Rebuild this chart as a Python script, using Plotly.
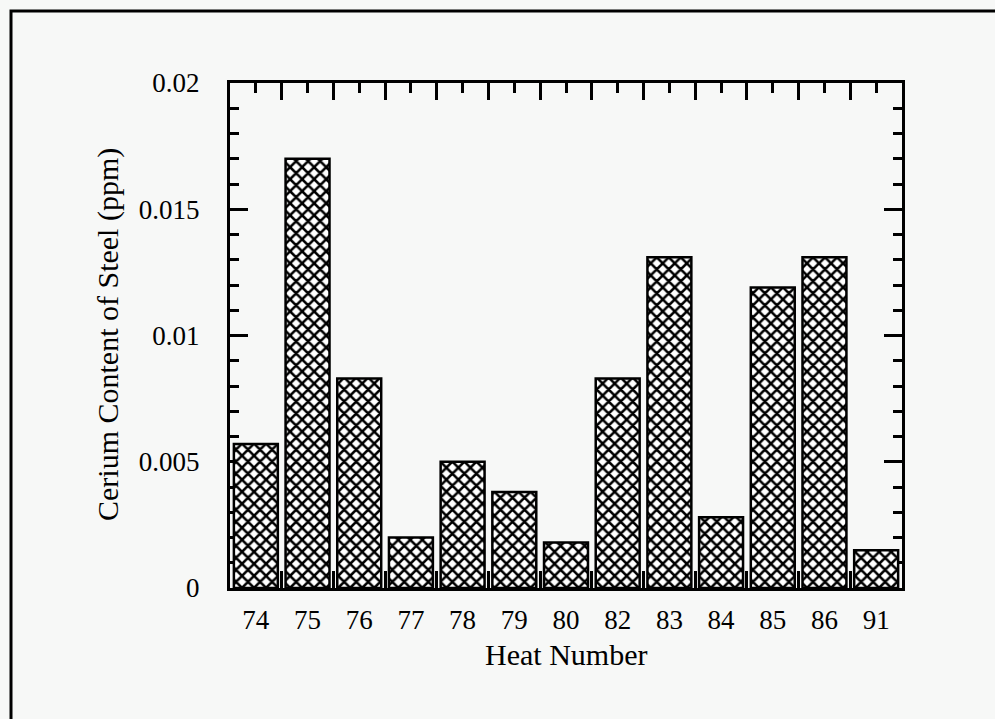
import plotly.graph_objects as go

heats = ["74", "75", "76", "77", "78", "79", "80", "82", "83", "84", "85", "86", "91"]
cerium = [0.0057, 0.0170, 0.0083, 0.0020, 0.0050, 0.0038, 0.0018, 0.0083, 0.0131, 0.0028, 0.0119, 0.0131, 0.0015]
y_ticks = [0, 0.005, 0.01, 0.015, 0.02]
y_ticktext = ["0", "0.005", "0.01", "0.015", "0.02"]

W, H = 995, 719
L, R, T, B = 230, 93, 83, 131
pw, ph = W - L - R, H - T - B
BG = "#f7f8f7"
FONT = "Liberation Serif"

xpos = list(range(len(heats)))

fig = go.Figure(go.Bar(
    x=xpos, y=cerium, width=0.85,
    marker=dict(color="white",
                line=dict(color="black", width=2.5),
                pattern=dict(shape="x", size=8.5, solidity=0.5,
                             fgcolor="black", bgcolor="white", fillmode="replace")),
))

fig.update_layout(
    width=W, height=H,
    margin=dict(l=L, r=R, t=T, b=B),
    paper_bgcolor=BG, plot_bgcolor=BG,
    showlegend=False,
    font=dict(family=FONT, size=27, color="black"),
    bargap=0.15,
)

fig.update_xaxes(
    range=[-0.5, len(heats) - 0.5],
    tickmode="array", tickvals=xpos, ticktext=heats,
    ticks="inside", ticklen=10, tickwidth=2.5, tickcolor="black",
    minor=dict(tickmode="linear", tick0=0.5, dtick=1, ticks="inside",
               ticklen=17, tickwidth=2.5, tickcolor="black", showgrid=False),
    showline=True, linewidth=3, linecolor="black", mirror="allticks",
    showgrid=False, zeroline=False, layer="below traces",
    ticklabelstandoff=6,
    tickfont=dict(family=FONT, size=27),
)

fig.update_yaxes(
    range=[0, 0.02],
    tickmode="array", tickvals=y_ticks, ticktext=y_ticktext,
    ticks="inside", ticklen=18, tickwidth=2.5, tickcolor="black",
    minor=dict(tickmode="linear", tick0=0, dtick=0.001, ticks="inside",
               ticklen=9, tickwidth=2.5, tickcolor="black", showgrid=False),
    showline=True, linewidth=3, linecolor="black", mirror="allticks",
    showgrid=False, zeroline=False, layer="below traces",
    ticklabelstandoff=22,
    tickfont=dict(family=FONT, size=27),
)

def px_x(px):
    return (px - L) / pw

def px_y(py):
    return 1 - (py - T) / ph

fig.add_annotation(text="Heat Number", xref="paper", yref="paper",
                   x=px_x(566), y=px_y(654), showarrow=False,
                   xanchor="center", yanchor="middle",
                   font=dict(family=FONT, size=30))
fig.add_annotation(text="Cerium Content of Steel (ppm)", xref="paper", yref="paper",
                   x=px_x(108), y=px_y(335), showarrow=False, textangle=-90,
                   xanchor="center", yanchor="middle",
                   font=dict(family=FONT, size=30))

# outer frame
fig.add_shape(type="rect", xref="paper", yref="paper",
              x0=px_x(11), x1=px_x(1010), y0=px_y(730), y1=px_y(11),
              line=dict(color="black", width=3), fillcolor="rgba(0,0,0,0)", layer="above")

fig.write_html("out.html")
